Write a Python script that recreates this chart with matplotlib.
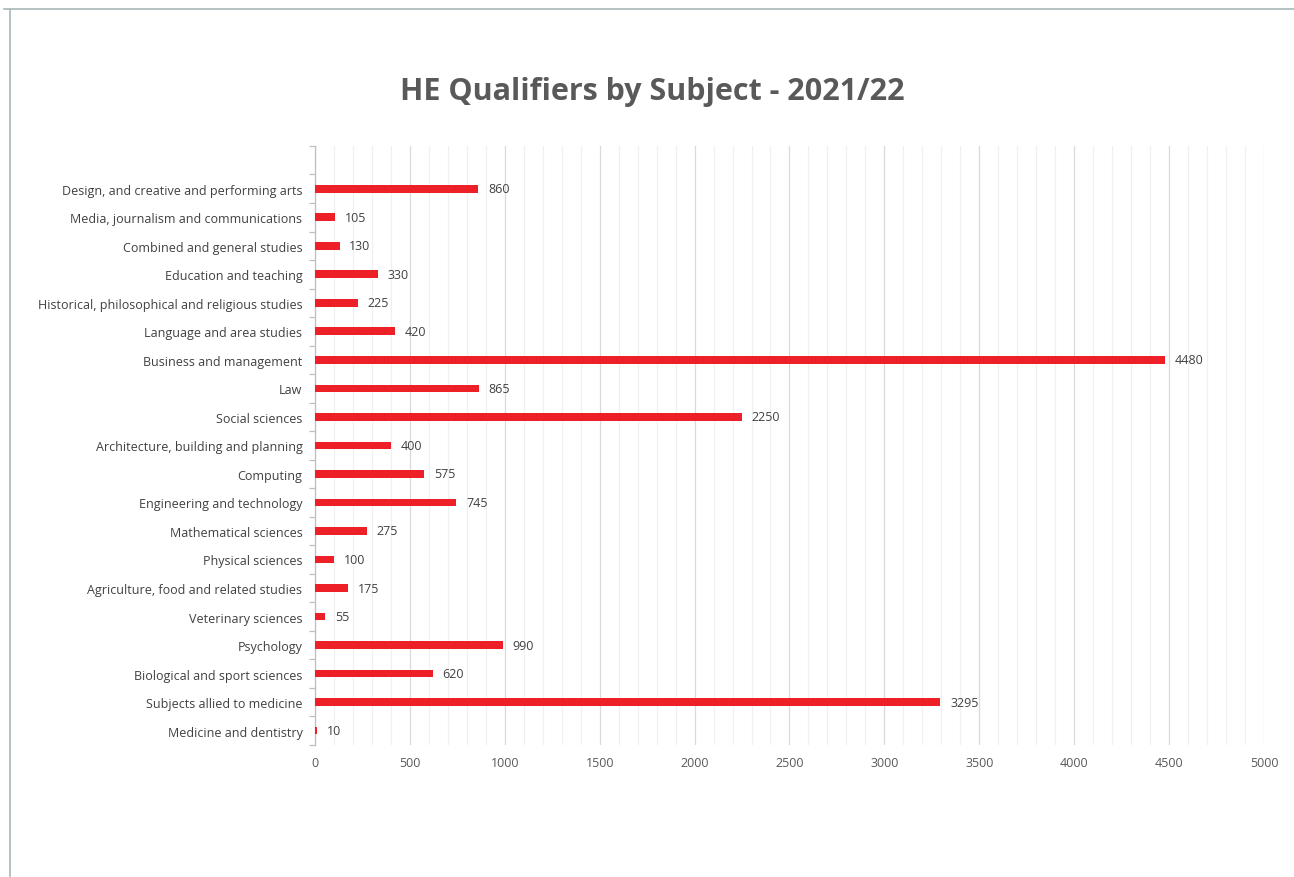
import matplotlib.pyplot as plt
from matplotlib.ticker import MultipleLocator
from matplotlib.lines import Line2D

subjects = [
    "Medicine and dentistry",
    "Subjects allied to medicine",
    "Biological and sport sciences",
    "Psychology",
    "Veterinary sciences",
    "Agriculture, food and related studies",
    "Physical sciences",
    "Mathematical sciences",
    "Engineering and technology",
    "Computing",
    "Architecture, building and planning",
    "Social sciences",
    "Law",
    "Business and management",
    "Language and area studies",
    "Historical, philosophical and religious studies",
    "Education and teaching",
    "Combined and general studies",
    "Media, journalism and communications",
    "Design, and creative and performing arts",
]
qualifiers = [10, 3295, 620, 990, 55, 175, 100, 275, 745, 575,
              400, 2250, 865, 4480, 420, 225, 330, 130, 105, 860]

plt.rcParams['font.family'] = ['Open Sans', 'DejaVu Sans']

fig = plt.figure(figsize=(12.94, 8.78), dpi=100)
ax = fig.add_axes([0.2434, 0.1505, 0.7334, 0.6821])

pos = list(range(len(subjects)))
ax.barh(pos, qualifiers, height=0.27, color='#EE2027', zorder=3)
for p, v in zip(pos, qualifiers):
    ax.annotate(str(v), (v, p), xytext=(7, 0), textcoords='offset points',
                va='center', ha='left', fontsize=9, color='#404040')

ax.set_xlim(0, 5000)
ax.set_ylim(-0.5, len(subjects) + 0.5)
ax.xaxis.set_major_locator(MultipleLocator(500))
ax.xaxis.set_minor_locator(MultipleLocator(100))
ax.grid(axis='x', which='major', color='#d9d9d9', linewidth=0.9, zorder=0)
ax.grid(axis='x', which='minor', color='#f0f0f0', linewidth=0.9, zorder=0)

ax.set_yticks(pos)
ax.set_yticklabels(subjects)
ax.set_yticks([p - 0.5 for p in range(len(subjects) + 2)], minor=True)
ax.tick_params(axis='y', which='major', length=0, pad=9, labelsize=9, labelcolor='#404040')
ax.tick_params(axis='y', which='minor', length=4, color='#bfbfbf', width=0.9)
ax.tick_params(axis='x', which='both', length=0, pad=8, labelsize=9, labelcolor='#595959')

for s in ['top', 'right', 'bottom']:
    ax.spines[s].set_visible(False)
ax.spines['left'].set_color('#bfbfbf')
ax.spines['left'].set_linewidth(0.9)

fig.text(0.504, 0.895, "HE Qualifiers by Subject - 2021/22", ha='center', va='center',
         fontsize=22, fontweight='bold', color='#595959')

# outer frame lines (top and left)
fig.add_artist(Line2D([0.003, 1.0], [1 - 9.5 / 878] * 2, transform=fig.transFigure,
                      color='#a9b8b8', linewidth=1.2))
fig.add_artist(Line2D([9.5 / 1294] * 2, [0, 1 - 9.5 / 878], transform=fig.transFigure,
                      color='#a9b8b8', linewidth=1.2))

fig.savefig('out.png', dpi=100, facecolor='white')
